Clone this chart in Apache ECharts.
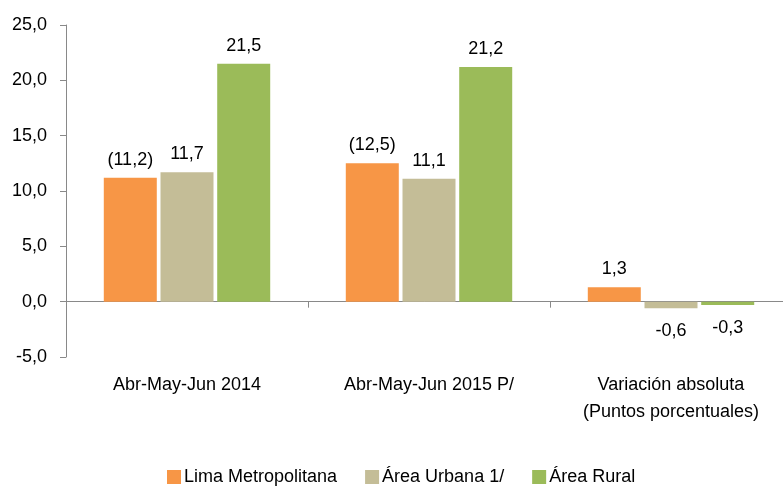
<!DOCTYPE html>
<html>
<head>
<meta charset="utf-8">
<script src="https://cdn.jsdelivr.net/npm/echarts@6/dist/echarts.min.js"></script>
<style>
  html, body { margin: 0; padding: 0; background: #fff; }
  #chart { width: 783px; height: 487px; }
</style>
</head>
<body>
<div id="chart"></div>
<script>
// datos
var categories = ['Abr-May-Jun 2014', 'Abr-May-Jun 2015 P/', 'Variación absoluta\n(Puntos porcentuales)'];
var seriesNames = ['Lima Metropolitana', 'Área Urbana 1/', 'Área Rural'];
var lima = [11.2, 12.5, 1.3];
var urbana = [11.7, 11.1, -0.6];
var rural = [21.5, 21.2, -0.3];
var limaLabels = ['(11,2)', '(12,5)', '1,3'];
var colors = ['#F79646', '#C4BD97', '#9BBB59'];

var FONT = "'Liberation Sans', Arial, sans-serif";
var FS = 18;

function fmt(v) {
  return v.toFixed(1).replace('.', ',');
}

// etiquetas arriba para positivos, abajo para negativos
function buildData(values, labels) {
  return values.map(function (v, i) {
    return {
      value: v,
      label: {
        position: v < 0 ? 'bottom' : 'top',
        distance: v < 0 ? 14 : 9,
        formatter: labels ? labels[i] : fmt(v)
      }
    };
  });
}

var chartDom = document.getElementById('chart');
var myChart = echarts.init(chartDom);

var labelStyle = {
  show: true,
  color: '#000',
  fontSize: FS,
  fontFamily: FONT
};

var option = {
  animation: false,
  color: colors,
  grid: {
    left: 66,
    top: 25,
    width: 726,
    height: 332,
    containLabel: false,
    outerBoundsMode: 'none'
  },
  legend: {
    left: 167,
    top: 468,
    padding: 0,
    itemWidth: 14,
    itemHeight: 14,
    itemGap: 28,
    icon: 'rect',
    textStyle: {
      color: '#000',
      fontSize: FS,
      fontFamily: FONT,
      padding: [0, 0, 0, -2]
    },
    data: seriesNames
  },
  xAxis: [
    {
      type: 'category',
      data: categories,
      position: 'bottom',
      axisLine: { show: true, onZero: true, lineStyle: { color: '#898989', width: 1 } },
      axisTick: { show: true, interval: 0, length: 6, lineStyle: { color: '#898989' } },
      axisLabel: { show: false },
      splitLine: { show: false }
    },
    {
      type: 'category',
      data: categories,
      position: 'bottom',
      axisLine: { show: false, onZero: false },
      axisTick: { show: false },
      axisLabel: {
        show: true,
        interval: 0,
        margin: 15,
        color: '#000',
        fontSize: FS,
        lineHeight: 27,
        fontFamily: FONT
      },
      splitLine: { show: false }
    }
  ],
  yAxis: {
    type: 'value',
    min: -5,
    max: 25,
    interval: 5,
    axisLine: { show: true, lineStyle: { color: '#898989', width: 1 } },
    axisTick: { show: true, length: 6, lineStyle: { color: '#898989' } },
    axisLabel: {
      color: '#000',
      fontSize: FS,
      fontFamily: FONT,
      margin: 19,
      formatter: function (v) { return fmt(v); }
    },
    splitLine: { show: false }
  },
  series: [
    {
      name: seriesNames[0],
      type: 'bar',
      xAxisIndex: 0,
      barWidth: 53,
      barGap: '7%',
      label: labelStyle,
      data: buildData(lima, limaLabels)
    },
    {
      name: seriesNames[1],
      type: 'bar',
      xAxisIndex: 0,
      barWidth: 53,
      barGap: '7%',
      label: labelStyle,
      data: buildData(urbana)
    },
    {
      name: seriesNames[2],
      type: 'bar',
      xAxisIndex: 0,
      barWidth: 53,
      barGap: '7%',
      label: labelStyle,
      data: buildData(rural)
    }
  ]
};

myChart.setOption(option);
</script>
</body>
</html>
